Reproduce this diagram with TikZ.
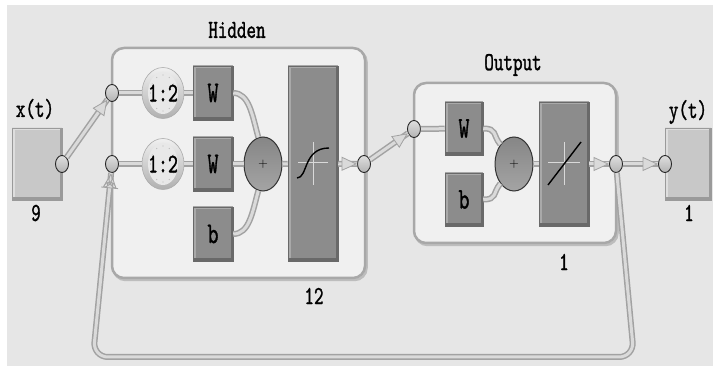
\documentclass[tikz,border=0pt]{standalone}
\usepackage{fontspec}
\usetikzlibrary{shapes.geometric,calc}

% narrow serif monospace used for every label
\newfontfamily\lbl[Extension=.otf, UprightFont=*-regular,
  FakeStretch=0.7, FakeBold=1.1]{lmmono10}

\definecolor{bg}{HTML}{E6E6E6}
\definecolor{panel}{HTML}{F0F0F0}
\definecolor{panelrim}{HTML}{A8A8A8}
\definecolor{panelshadow}{HTML}{BDBDBD}
\definecolor{tubeedge}{HTML}{A2A2A2}
\definecolor{tubecore}{HTML}{DADADA}
\definecolor{blockfill}{HTML}{8C8C8C}
\definecolor{blocklight}{HTML}{A9A9A9}
\definecolor{blockdark}{HTML}{696969}
\definecolor{iofill}{HTML}{C8C8C8}
\definecolor{iolight}{HTML}{DEDEDE}
\definecolor{iodark}{HTML}{9A9A9A}
\definecolor{sumtop}{HTML}{868686}
\definecolor{sumbot}{HTML}{A4A4A4}

\tikzset{
  % gray "pipe" used for every connection
  tube/.style={line width=6pt, draw=tubeedge,
    postaction={draw=tubecore, line width=3pt}},
  % hollow-looking arrowhead sitting on a pipe end
  pipehead/.style={isosceles triangle, isosceles triangle stretches,
    minimum width=13pt, minimum height=14pt, inner sep=0pt,
    fill=tubecore, draw=tubeedge, line width=0.8pt,
    sloped, allow upside down, pos=1, anchor=apex},
  port/.style={ellipse, minimum width=13pt, minimum height=17pt, inner sep=0pt,
    draw=black!85, line width=0.9pt, top color=gray!25, bottom color=gray!60},
  bevel/.style n args={2}{path picture={
    \draw[line width=5pt,#1] (path picture bounding box.south west) --
      (path picture bounding box.north west) -- (path picture bounding box.north east);
    \draw[line width=5pt,#2] (path picture bounding box.south west) --
      (path picture bounding box.south east) -- (path picture bounding box.north east);}},
  block/.style={rectangle, inner sep=0pt, fill=blockfill, draw=blockdark,
    line width=0.5pt, bevel={blocklight}{blockdark},
    font=\lbl\fontsize{30}{30}\selectfont},
  wbox/.style={block, minimum width=40pt, minimum height=54pt},
  tf/.style={block, minimum width=50pt},
  iobox/.style={rectangle, inner sep=0pt, fill=iofill, draw=iodark, line width=0.5pt,
    bevel={iolight}{iodark}, minimum height=72pt},
  clk/.style={ellipse, minimum width=38pt, minimum height=51pt, inner sep=0pt,
    draw=gray!65, line width=0.6pt, top color=gray!12, bottom color=gray!62,
    font=\lbl\fontsize{27}{27}\selectfont,
    path picture={
      \fill[gray!18] (path picture bounding box.center) ellipse [x radius=15pt, y radius=21pt];
      \foreach \a in {0,30,...,330}
        \fill[gray!55] ($(path picture bounding box.center)+(\a:12.5pt and 18pt)$) circle (0.6pt);}},
  sumnode/.style={ellipse, minimum width=38pt, minimum height=54pt, inner sep=0pt,
    draw=black!80, line width=1pt, top color=sumtop, bottom color=sumbot,
    font=\fontsize{13}{13}\selectfont},
  layer/.style={rectangle, rounded corners=12pt, fill=panel, draw=panelrim, line width=2.5pt},
  layershadow/.style={rectangle, rounded corners=12pt, draw=panelshadow, line width=2.5pt},
  txt/.style={font=\lbl\fontsize{26}{26}\selectfont, inner sep=0pt},
  cross/.style={draw=gray!30, line width=1pt},
  curve/.style={draw=black, line width=1.4pt}
}

\begin{document}
\begin{tikzpicture}[x=1pt,y=-1pt]
\useasboundingbox (0,0) rectangle (713,366);
\fill[white] (0,0) rectangle (713,366);
\fill[bg] (7,5) rectangle (713,366);

% layer panels
\node[layershadow, minimum width=253pt, minimum height=230pt] (hidsh) at (240,165) {};
\node[layer, minimum width=253pt, minimum height=230pt] (hid) at (238.5,163) {};
\node[layershadow, minimum width=202pt, minimum height=160pt] (outsh) at (516.5,165) {};
\node[layer, minimum width=202pt, minimum height=160pt] (outl) at (515,163) {};

% labels
\node[txt] (lx) at (35,109) {x(t)};
\node[txt] (ly) at (688,112) {y(t)};
\node[txt] (lhid) at (237,30) {Hidden};
\node[txt] (lout) at (513,65) {Output};
\node[txt] (nx) at (36,213) {9};
\node[txt] (ny) at (689,213) {1};
\node[txt] (nhid) at (314,296) {12};
\node[txt] (nout) at (564,262) {1};

% input / output blocks
\node[iobox, minimum width=50pt] (xb) at (37,164) {};
\node[iobox, minimum width=46pt] (yb) at (688,164) {};

% hidden layer
\node[clk] (c1) at (163,93) {1:2};
\node[clk] (c2) at (163,164) {1:2};
\node[wbox] (w1) at (213,93) {W};
\node[wbox] (w2) at (213,164) {W};
\node[wbox] (bh) at (213,234) {b};
\node[sumnode] (s1) at (263,164) {+};
\node[tf, minimum height=195pt] (t1) at (313,163.5) {};
\draw[cross] (298,163) -- (328,163) (313,142) -- (313,185);
\draw[curve] (297,178) .. controls (308,178) and (303,148) .. (329,148);

% output layer
\node[wbox, minimum width=38pt, minimum height=53pt] (w3) at (464,128.5) {W};
\node[wbox, minimum width=38pt, minimum height=53pt] (bo) at (464,199.5) {b};
\node[sumnode] (s2) at (514,164) {+};
\node[tf, minimum height=124pt] (t2) at (564,164) {};
\draw[cross] (548,163) -- (580,163) (564,142) -- (564,185);
\draw[curve] (548,185) -- (581,142);

% connection pipes inside the layers
\draw[tube] (c1) -- (w1);
\draw[tube] (c2) -- (w2);
\draw[tube] (w2) -- (s1);
\draw[tube] (w1.east) .. controls +(16,0) and +(-6,-22) .. (s1.100);
\draw[tube] (bh.east) .. controls +(16,0) and +(-6,22) .. (s1.260);
\draw[tube] (s1) -- (t1);
\draw[tube] (w3.east) .. controls +(14,0) and +(-8,-10) .. (s2.125);
\draw[tube] (bo.east) .. controls +(14,0) and +(-8,10) .. (s2.235);
\draw[tube] (s2) -- (t2);

% feedback path corners
\coordinate (lpR) at (634,357);
\coordinate (lpL) at (93,357);

% ports
\node[port] (xo) at (62,164) {};
\node[port] (h1) at (112,93) {};
\node[port] (h2) at (112,164) {};
\node[port] (ho) at (364,164) {};
\node[port] (oi) at (414,129) {};
\node[port] (oo) at (616,164) {};
\node[port] (yi) at (665,164) {};

\draw[tube] (h1) -- (c1);
\draw[tube] (h2) -- (c2);
\draw[tube] (oi) -- (w3);

% pipes with arrowheads
\draw[tube] (xo) -- node[pipehead] {} (h1);
\draw[tube] (t1) -- node[pipehead] {} (ho);
\draw[tube] (ho) -- node[pipehead] {} (oi);
\draw[tube] (t2) -- node[pipehead] {} (oo);
\draw[tube] (oo) -- node[pipehead] {} (yi);
\draw[tube, rounded corners=15pt] (oo) -- (lpR) -- (lpL) -- node[pipehead] {} (h2);
\end{tikzpicture}
\end{document}
